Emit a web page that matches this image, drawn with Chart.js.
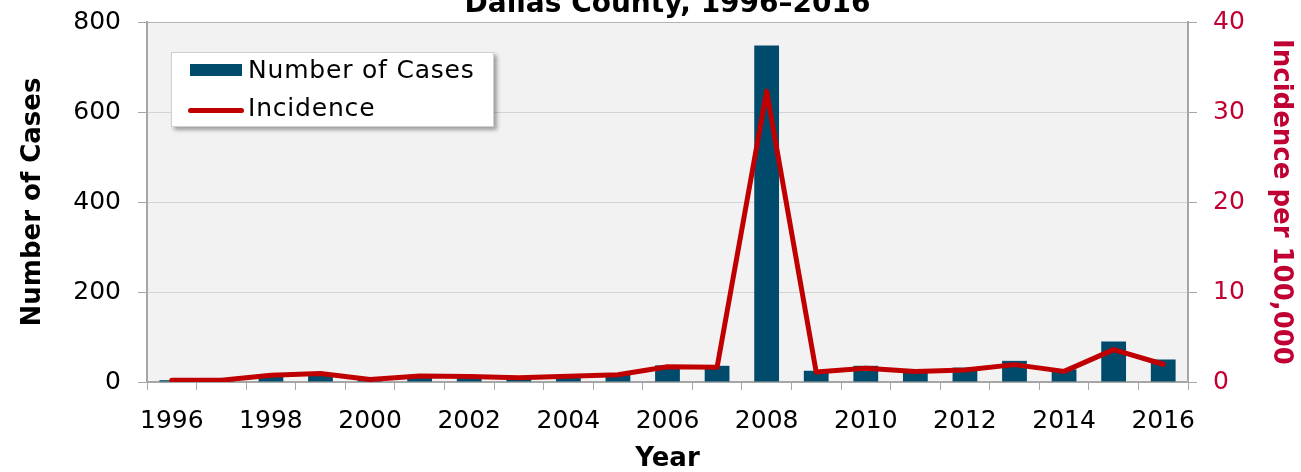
<!DOCTYPE html>
<html>
<head>
<meta charset="utf-8">
<title>Dallas County, 1996–2016</title>
<script src="https://cdn.jsdelivr.net/npm/chart.js@4"></script>
<style>
  html, body { margin: 0; padding: 0; background: #fff; overflow: hidden; }
  #wrap { position: relative; width: 1301px; height: 472px; overflow: hidden; }
  #chart { position: absolute; left: 0; top: -20px; }
  #legend {
    position: absolute; left: 171px; top: 52px; width: 321px; height: 73px;
    background: #fff; border: 1px solid #d0d0d0;
    box-shadow: 3px 3px 4px rgba(0,0,0,0.35);
    font: 25px 'DejaVu Sans', Verdana, sans-serif; color: #000;
  }
  #legend .row { display: flex; align-items: center; height: 30px; line-height: 30px; margin-bottom: 8px; }
  #legend .row:first-child { margin-top: 2px; }
  #legend .sw { width: 58px; margin-left: 15px; display: flex; justify-content: center; align-items: center; }
  #legend .txt { margin-left: 3px; white-space: nowrap; letter-spacing: 0.8px; }
</style>
</head>
<body>
<div id="wrap">
  <canvas id="chart" width="1301" height="492"></canvas>
  <div id="legend"></div>
</div>
<script>
const years = ['1996','1997','1998','1999','2000','2001','2002','2003','2004','2005','2006',
               '2007','2008','2009','2010','2011','2012','2013','2014','2015','2016'];
const cases = [4, 4, 15, 20, 6, 14, 13, 10, 14, 18, 37, 36, 748, 25, 36, 27, 32, 47, 28, 90, 50];
const incidence = [0.2, 0.2, 0.75, 0.95, 0.28, 0.67, 0.6, 0.48, 0.63, 0.8, 1.7, 1.63, 32.3,
                   1.1, 1.52, 1.18, 1.33, 1.93, 1.18, 3.6, 1.97];

const barColor = '#004a6b';
const lineColor = '#c00000';
const rightColor = '#c00032';
const axisGray = '#a6a6a6';

Chart.defaults.font.family = "'DejaVu Sans', Verdana, sans-serif";
Chart.defaults.color = '#000';

// grey plot background
const plotBg = {
    id: 'plotBg',
    beforeDraw(chart) {
        const a = chart.chartArea;
        const ctx = chart.ctx;
        ctx.save();
        ctx.fillStyle = '#f2f2f2';
        ctx.fillRect(a.left, a.top, a.right - a.left, a.bottom - a.top);
        ctx.restore();
    }
};

const ctx = document.getElementById('chart').getContext('2d');
const chart = new Chart(ctx, {
    type: 'bar',
    data: {
        labels: years,
        datasets: [{
            type: 'line',
            label: 'Incidence',
            data: incidence,
            yAxisID: 'y1',
            borderColor: lineColor,
            backgroundColor: lineColor,
            borderWidth: 5,
            borderCapStyle: 'round',
            borderJoinStyle: 'round',
            pointRadius: 0,
            tension: 0,
            order: 0
        }, {
            type: 'bar',
            label: 'Number of Cases',
            data: cases,
            yAxisID: 'y',
            backgroundColor: barColor,
            barPercentage: 0.5,
            categoryPercentage: 1.0,
            order: 1
        }]
    },
    options: {
        responsive: false,
        devicePixelRatio: 1,
        animation: false,
        layout: { padding: 0 },
        plugins: {
            legend: { display: false },
            tooltip: { enabled: false },
            title: {
                display: true,
                fullSize: false,
                text: 'Dallas County, 1996–2016',
                font: { size: 28, weight: 'bold' },
                color: '#000',
                padding: { top: 8, bottom: 0.4 }
            }
        },
        scales: {
            x: {
                offset: true,
                afterFit: (s) => { s.height = 90; },
                grid: {
                    offset: true,
                    drawOnChartArea: false,
                    drawTicks: true,
                    tickLength: 8,
                    color: axisGray
                },
                border: { display: true, color: axisGray, width: 2 },
                ticks: {
                    autoSkip: false,
                    maxRotation: 0,
                    padding: 16,
                    font: { size: 25 },
                    color: '#000',
                    callback: function(value, index) {
                        return index % 2 === 0 ? this.getLabelForValue(value) : '';
                    }
                },
                title: {
                    display: true,
                    text: 'Year',
                    font: { size: 26, weight: 'bold', lineHeight: 1 },
                    color: '#000',
                    padding: { top: 0, bottom: 0 }
                }
            },
            y: {
                position: 'left',
                min: 0,
                max: 800,
                afterFit: (s) => { s.width = 147; },
                grid: {
                    color: (c) => (c.tick && c.tick.value === 800) ? '#b4b4b4' : '#d4d4d4',
                    lineWidth: 1,
                    tickLength: 9,
                    tickColor: axisGray
                },
                border: { display: true, color: axisGray, width: 2 },
                ticks: {
                    stepSize: 200,
                    padding: 17,
                    font: { size: 25 },
                    color: '#000'
                },
                title: {
                    display: true,
                    text: 'Number of Cases',
                    font: { size: 26, weight: 'bold' },
                    color: '#000',
                    padding: { top: 18, bottom: 0 }
                }
            },
            y1: {
                position: 'right',
                min: 0,
                max: 40,
                afterFit: (s) => { s.width = 113; },
                grid: {
                    drawOnChartArea: false,
                    tickLength: 9,
                    color: axisGray
                },
                border: { display: true, color: axisGray, width: 2 },
                ticks: {
                    stepSize: 10,
                    padding: 16,
                    font: { size: 25 },
                    color: rightColor
                },
                title: {
                    display: true,
                    text: 'Incidence per 100,000',
                    font: { size: 26, weight: 'bold' },
                    color: rightColor,
                    padding: { top: 5, bottom: 0 }
                }
            }
        }
    },
    plugins: [plotBg]
});

// HTML legend box inside the plot, built from the datasets
const legendEl = document.getElementById('legend');
[chart.data.datasets[1], chart.data.datasets[0]].forEach(ds => {
    const row = document.createElement('div');
    row.className = 'row';
    const sw = document.createElement('div');
    sw.className = 'sw';
    const mark = document.createElement('div');
    if (ds.type === 'bar') {
        mark.style.cssText = 'width:52px;height:12px;background:' + ds.backgroundColor;
    } else {
        mark.style.cssText = 'width:56px;height:5px;border-radius:3px;position:relative;top:2px;background:' + ds.borderColor;
    }
    sw.appendChild(mark);
    const txt = document.createElement('span');
    txt.className = 'txt';
    txt.textContent = ds.label;
    row.appendChild(sw);
    row.appendChild(txt);
    legendEl.appendChild(row);
});
</script>
</body>
</html>
